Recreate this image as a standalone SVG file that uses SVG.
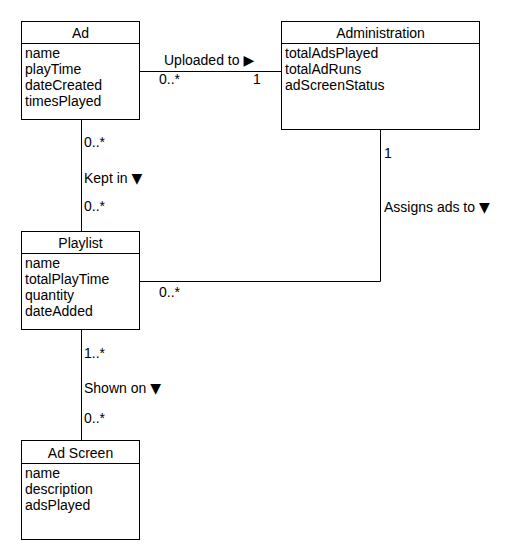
<svg xmlns="http://www.w3.org/2000/svg" width="530" height="560" viewBox="0 0 530 560">
<style>
.box{fill:#fff;stroke:#000;stroke-width:1}
.ln{fill:none;stroke:#000;stroke-width:1}
text{font-family:"Liberation Sans",Arial,sans-serif;font-size:14px;fill:#000}
.t{text-anchor:middle}
.tri{font-family:"DejaVu Sans",sans-serif;font-size:14px}
</style>
<rect width="530" height="560" fill="#fff"/>
<g id="connectors">
<path class="ln" d="M139.5 71.5H281"/>
<path class="ln" d="M81.5 119V231"/>
<path class="ln" d="M139 281.5H380.5V129"/>
<path class="ln" d="M81.5 329V440"/>
<text x="164" y="65">Uploaded to<tspan class="tri" dx="4">▶</tspan></text>
<text x="159" y="84">0..*</text>
<text x="253" y="84">1</text>
<text x="84" y="147">0..*</text>
<text x="84" y="183">Kept in<tspan class="tri" dx="4">▼</tspan></text>
<text x="84" y="211">0..*</text>
<text x="384" y="158">1</text>
<text x="384" y="212">Assigns ads to<tspan class="tri" dx="4">▼</tspan></text>
<text x="159" y="297">0..*</text>
<text x="84" y="358">1..*</text>
<text x="84" y="393">Shown on<tspan class="tri" dx="4">▼</tspan></text>
<text x="84" y="423">0..*</text>
</g>
<g id="ad">
<rect class="box" x="21.5" y="21.5" width="118" height="98"/>
<path class="ln" d="M21.5 43.5H139.5"/>
<text class="t" x="80.5" y="38">Ad</text>
<text x="25" y="58">name</text>
<text x="25" y="74">playTime</text>
<text x="25" y="90">dateCreated</text>
<text x="25" y="106">timesPlayed</text>
</g>
<g id="administration">
<rect class="box" x="281.5" y="21.5" width="198" height="108"/>
<path class="ln" d="M281.5 43.5H479.5"/>
<text class="t" x="380.5" y="38">Administration</text>
<text x="285" y="58">totalAdsPlayed</text>
<text x="285" y="74">totalAdRuns</text>
<text x="285" y="90">adScreenStatus</text>
</g>
<g id="playlist">
<rect class="box" x="21.5" y="231.5" width="118" height="98"/>
<path class="ln" d="M21.5 253.5H139.5"/>
<text class="t" x="80.5" y="248">Playlist</text>
<text x="25" y="268">name</text>
<text x="25" y="284">totalPlayTime</text>
<text x="25" y="300">quantity</text>
<text x="25" y="316">dateAdded</text>
</g>
<g id="adscreen">
<rect class="box" x="21.5" y="440.5" width="118" height="99"/>
<path class="ln" d="M21.5 463.5H139.5"/>
<text class="t" x="80.5" y="458">Ad Screen</text>
<text x="25" y="478">name</text>
<text x="25" y="494">description</text>
<text x="25" y="510">adsPlayed</text>
</g>
</svg>
